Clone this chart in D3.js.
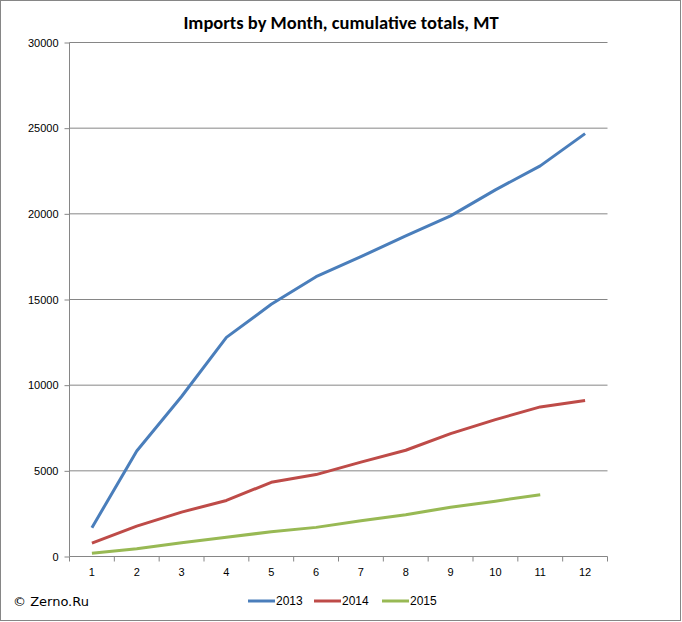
<!DOCTYPE html>
<html><head><meta charset="utf-8">
<script src="https://cdn.jsdelivr.net/npm/d3@7"></script>
<style>body{margin:0;background:#fff}svg{display:block}</style>
</head><body>
<svg id="c" width="682" height="622"></svg>
<script>
const months = [1,2,3,4,5,6,7,8,9,10,11,12];
const seriesNames = ["2013","2014","2015"];
const v2013 = [1680,6160,9340,12790,14720,16330,17500,18710,19880,21400,22800,24680];
const v2014 = [780,1770,2590,3270,4330,4780,5510,6200,7170,7990,8730,9100];
const v2015 = [190,450,800,1130,1440,1700,2090,2440,2880,3230,3610];
const yTicks = [0,5000,10000,15000,20000,25000,30000];
const colors = ["#4A7EBB","#BE4B48","#98B954"];
const title = "Imports by Month, cumulative totals, MT";
const credit = "© Zerno.Ru";

const svg = d3.select("#c");
const font = "'Liberation Sans', Arial, sans-serif";
svg.append("rect").attr("x",0.5).attr("y",0.5).attr("width",680).attr("height",620)
  .attr("fill","#fff").attr("stroke","#868686");

const x = d3.scaleBand().domain(months).range([69.5,607.5]);
const y = d3.scaleLinear().domain([0,30000]).range([556.5,42.5]);

svg.append("text").attr("x",341).attr("y",29).attr("text-anchor","middle")
  .attr("font-family","Carlito, 'Open Sans', sans-serif").attr("font-weight","bold").attr("font-size",18.5)
  .attr("fill","#000").text(title);

const gy = svg.append("g").attr("transform","translate(69.5,0)")
  .call(d3.axisLeft(y).tickValues(yTicks).tickSize(5).tickFormat(d=>d));
gy.select(".domain").attr("stroke","#868686").attr("d","M0,42.5V556.5");
gy.selectAll(".tick line").attr("stroke","#868686");
gy.selectAll(".tick text").attr("font-family",font).attr("font-size",11).attr("fill","#000").attr("dx",-3);
svg.append("g").selectAll("line").data(yTicks.filter(d=>d>0)).join("line")
  .attr("x1",69.5).attr("x2",607.5).attr("y1",d=>y(d)).attr("y2",d=>y(d))
  .attr("stroke","#868686");

const gx = svg.append("g").attr("transform","translate(0,556.5)")
  .call(d3.axisBottom(x).tickSize(0).tickPadding(12));
gx.select(".domain").attr("stroke","#868686").attr("d","M69.5,0H607.5");
gx.selectAll(".tick text").attr("font-family",font).attr("font-size",11).attr("fill","#000");
const bounds = months.map(m=>x(m)).concat([x(12)+x.bandwidth()]);
gx.append("g").selectAll("line").data(bounds).join("line")
  .attr("x1",d=>d).attr("x2",d=>d).attr("y1",0).attr("y2",5).attr("stroke","#868686");

const data = [v2013,v2014,v2015];
const line = d3.line().x((d,i)=>x(months[i])+x.bandwidth()/2).y(d=>y(d));
data.forEach((s,k)=>{
  svg.append("path").attr("d",line(s)).attr("fill","none").attr("stroke",colors[k])
    .attr("stroke-width",3).attr("stroke-linejoin","round");
});

const lx = [248,314,382];
seriesNames.forEach((n,k)=>{
  svg.append("line").attr("x1",lx[k]).attr("x2",lx[k]+27).attr("y1",601).attr("y2",601)
    .attr("stroke",colors[k]).attr("stroke-width",3);
  svg.append("text").attr("x",lx[k]+28).attr("y",605).attr("font-family",font).attr("font-size",12)
    .attr("fill","#000").text(n);
});
svg.append("text").attr("x",13).attr("y",606).attr("font-family","'DejaVu Sans', sans-serif")
  .attr("font-size",13).attr("fill","#000").text(credit);
</script>
</body></html>
